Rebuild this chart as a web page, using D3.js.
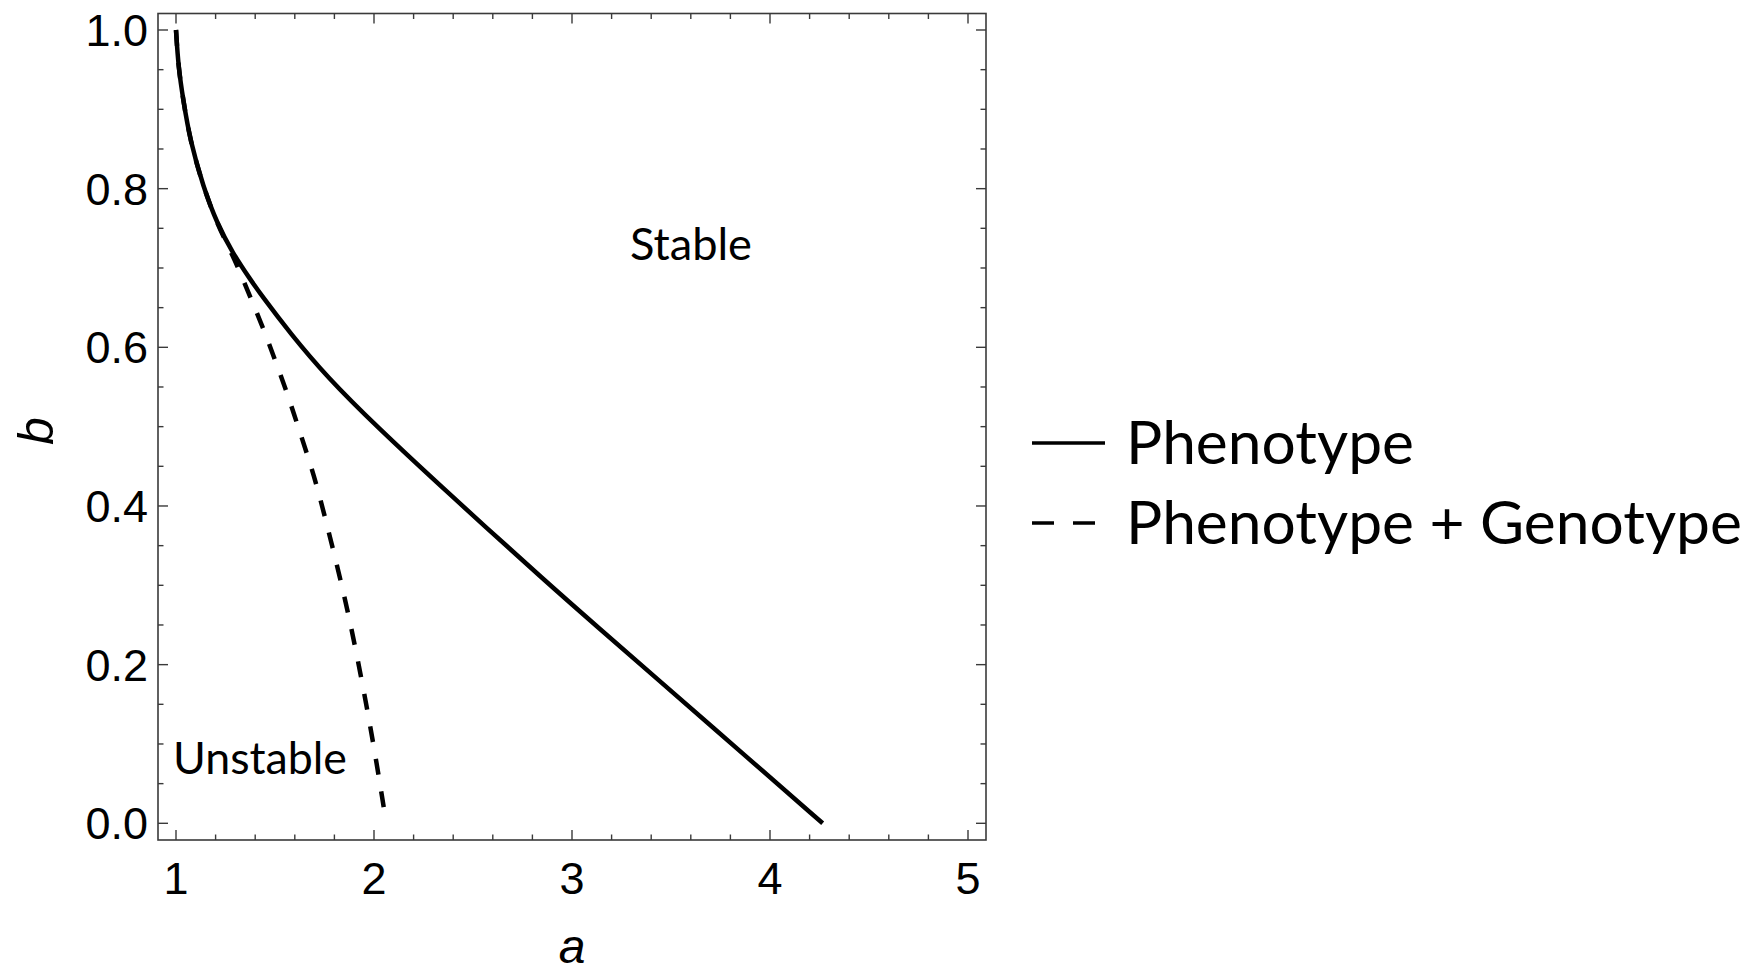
<!DOCTYPE html>
<html>
<head>
<meta charset="utf-8">
<script src="https://cdn.jsdelivr.net/npm/d3@7"></script>
<style>
  html, body { margin: 0; padding: 0; background: #fff; }
  svg { display: block; }
</style>
</head>
<body>
<svg id="chart" width="1751" height="974"></svg>
<script>
// ---- data ----
const phenoA = [1.000, 1.012, 1.037, 1.071, 1.138, 1.206, 1.288, 1.374, 1.433, 1.576, 1.761, 2.014, 2.367, 2.889, 3.141, 3.394, 3.899, 4.266];
const phenoB = [1.000, 0.953, 0.911, 0.861, 0.802, 0.757, 0.718, 0.686, 0.665, 0.618, 0.563, 0.500, 0.418, 0.300, 0.245, 0.190, 0.080, 0.000];

const genoA = [1.000, 1.012, 1.037, 1.071, 1.138, 1.206, 1.270, 1.315, 1.374, 1.441, 1.500, 1.559, 1.609, 1.660, 1.711, 1.795, 1.871, 1.938, 1.997, 2.050];
const genoB = [1.000, 0.953, 0.911, 0.861, 0.802, 0.757, 0.724, 0.700, 0.664, 0.624, 0.584, 0.544, 0.506, 0.467, 0.427, 0.344, 0.265, 0.181, 0.101, 0.019];

const xMajorTicks = [1, 2, 3, 4, 5];
const yMajorTicks = [0.0, 0.2, 0.4, 0.6, 0.8, 1.0];
const yTickLabels = ["0.0", "0.2", "0.4", "0.6", "0.8", "1.0"];
const seriesNames = ["Phenotype", "Phenotype + Genotype"];
const regionLabels = ["Stable", "Unstable"];

// ---- layout ----
const svg = d3.select("#chart");
const frame = { left: 158, right: 986, top: 13.5, bottom: 840 };
const xDomain = [1 - 18 / 198, 5 + 18 / 198];
const yDomain = [-16.7 / 793.5, 1 + 16.5 / 793.5];
const x = d3.scaleLinear().domain(xDomain).range([frame.left, frame.right]);
const y = d3.scaleLinear().domain(yDomain).range([frame.bottom, frame.top]);

const frameColor = "#3a3a3a";
const majorLen = 10, minorLen = 5.5;

// frame
svg.append("rect")
  .attr("x", frame.left).attr("y", frame.top)
  .attr("width", frame.right - frame.left).attr("height", frame.bottom - frame.top)
  .attr("fill", "none").attr("stroke", frameColor).attr("stroke-width", 1.6);

// ticks
const xMinor = d3.range(1, 5.0001, 0.2).filter(v => !xMajorTicks.some(m => Math.abs(m - v) < 1e-6));
const yMinor = d3.range(0, 1.0001, 0.05).filter(v => !yMajorTicks.some(m => Math.abs(m - v) < 1e-6));

function axisBottomTicks(vals, len) {
  vals.forEach(v => {
    svg.append("line").attr("x1", x(v)).attr("x2", x(v)).attr("y1", frame.bottom).attr("y2", frame.bottom - len)
      .attr("stroke", frameColor).attr("stroke-width", 1.4);
    svg.append("line").attr("x1", x(v)).attr("x2", x(v)).attr("y1", frame.top).attr("y2", frame.top + len)
      .attr("stroke", frameColor).attr("stroke-width", 1.4);
  });
}
function axisLeftTicks(vals, len) {
  vals.forEach(v => {
    svg.append("line").attr("y1", y(v)).attr("y2", y(v)).attr("x1", frame.left).attr("x2", frame.left + len)
      .attr("stroke", frameColor).attr("stroke-width", 1.4);
    svg.append("line").attr("y1", y(v)).attr("y2", y(v)).attr("x1", frame.right).attr("x2", frame.right - len)
      .attr("stroke", frameColor).attr("stroke-width", 1.4);
  });
}
axisBottomTicks(xMajorTicks, majorLen);
axisBottomTicks(xMinor, minorLen);
axisLeftTicks(yMajorTicks, majorLen);
axisLeftTicks(yMinor, minorLen);

// tick labels
const tickFont = "'Liberation Sans', Arial, sans-serif";
svg.append("g").selectAll("text").data(xMajorTicks).join("text")
  .attr("x", d => x(d)).attr("y", 894)
  .attr("text-anchor", "middle")
  .attr("font-family", tickFont).attr("font-size", 45).attr("fill", "#000")
  .text(d => d);
svg.append("g").selectAll("text").data(yMajorTicks).join("text")
  .attr("x", 148).attr("y", d => y(d) + 16)
  .attr("text-anchor", "end")
  .attr("font-family", tickFont).attr("font-size", 45).attr("fill", "#000")
  .text((d, i) => yTickLabels[i]);

// axis labels
svg.append("text").attr("x", 572).attr("y", 963).attr("text-anchor", "middle")
  .attr("font-family", tickFont).attr("font-style", "italic").attr("font-size", 48).text("a");
svg.append("text").attr("transform", "translate(53,431) rotate(-90)").attr("text-anchor", "middle")
  .attr("font-family", tickFont).attr("font-style", "italic").attr("font-size", 50).text("b");

// curves
const line = d3.line().x(d => x(d[0])).y(d => y(d[1])).curve(d3.curveBasis);
const phenoData = phenoA.map((a, i) => [a, phenoB[i]]);
const genoData = genoA.map((a, i) => [a, genoB[i]]);

svg.append("path").datum(genoData).attr("d", line)
  .attr("fill", "none").attr("stroke", "#000").attr("stroke-width", 4.5)
  .attr("stroke-dasharray", "16,17");
svg.append("path").datum(phenoData).attr("d", line)
  .attr("fill", "none").attr("stroke", "#000").attr("stroke-width", 4.5);

// label font fitting helper (Calibri-like look)
const labelFont = "Lato, 'Open Sans', sans-serif";
function fitSize(text, targetWidth) {
  const t = svg.append("text").attr("font-family", labelFont).attr("font-size", 100).text(text);
  const w = t.node().getComputedTextLength();
  t.remove();
  return 100 * targetWidth / w;
}

// region labels
const stableSize = fitSize(regionLabels[0], 122);
const unstableSize = fitSize(regionLabels[1], 174);
svg.append("text").attr("x", 630).attr("y", 260)
  .attr("font-family", labelFont).attr("font-size", stableSize).text(regionLabels[0]);
svg.append("text").attr("x", 173).attr("y", 774)
  .attr("font-family", labelFont).attr("font-size", unstableSize).text(regionLabels[1]);

// legend
const legSize = fitSize(seriesNames[1], 616);
const legend = svg.append("g");
legend.append("line").attr("x1", 1032).attr("x2", 1105).attr("y1", 443).attr("y2", 443)
  .attr("stroke", "#000").attr("stroke-width", 3.5);
legend.append("text").attr("x", 1126).attr("y", 464)
  .attr("font-family", labelFont).attr("font-size", legSize).text(seriesNames[0]);
legend.append("line").attr("x1", 1032).attr("x2", 1096).attr("y1", 523).attr("y2", 523)
  .attr("stroke", "#000").attr("stroke-width", 3.5).attr("stroke-dasharray", "22,19");
legend.append("text").attr("x", 1126).attr("y", 544)
  .attr("font-family", labelFont).attr("font-size", legSize).text(seriesNames[1]);
</script>
</body>
</html>
